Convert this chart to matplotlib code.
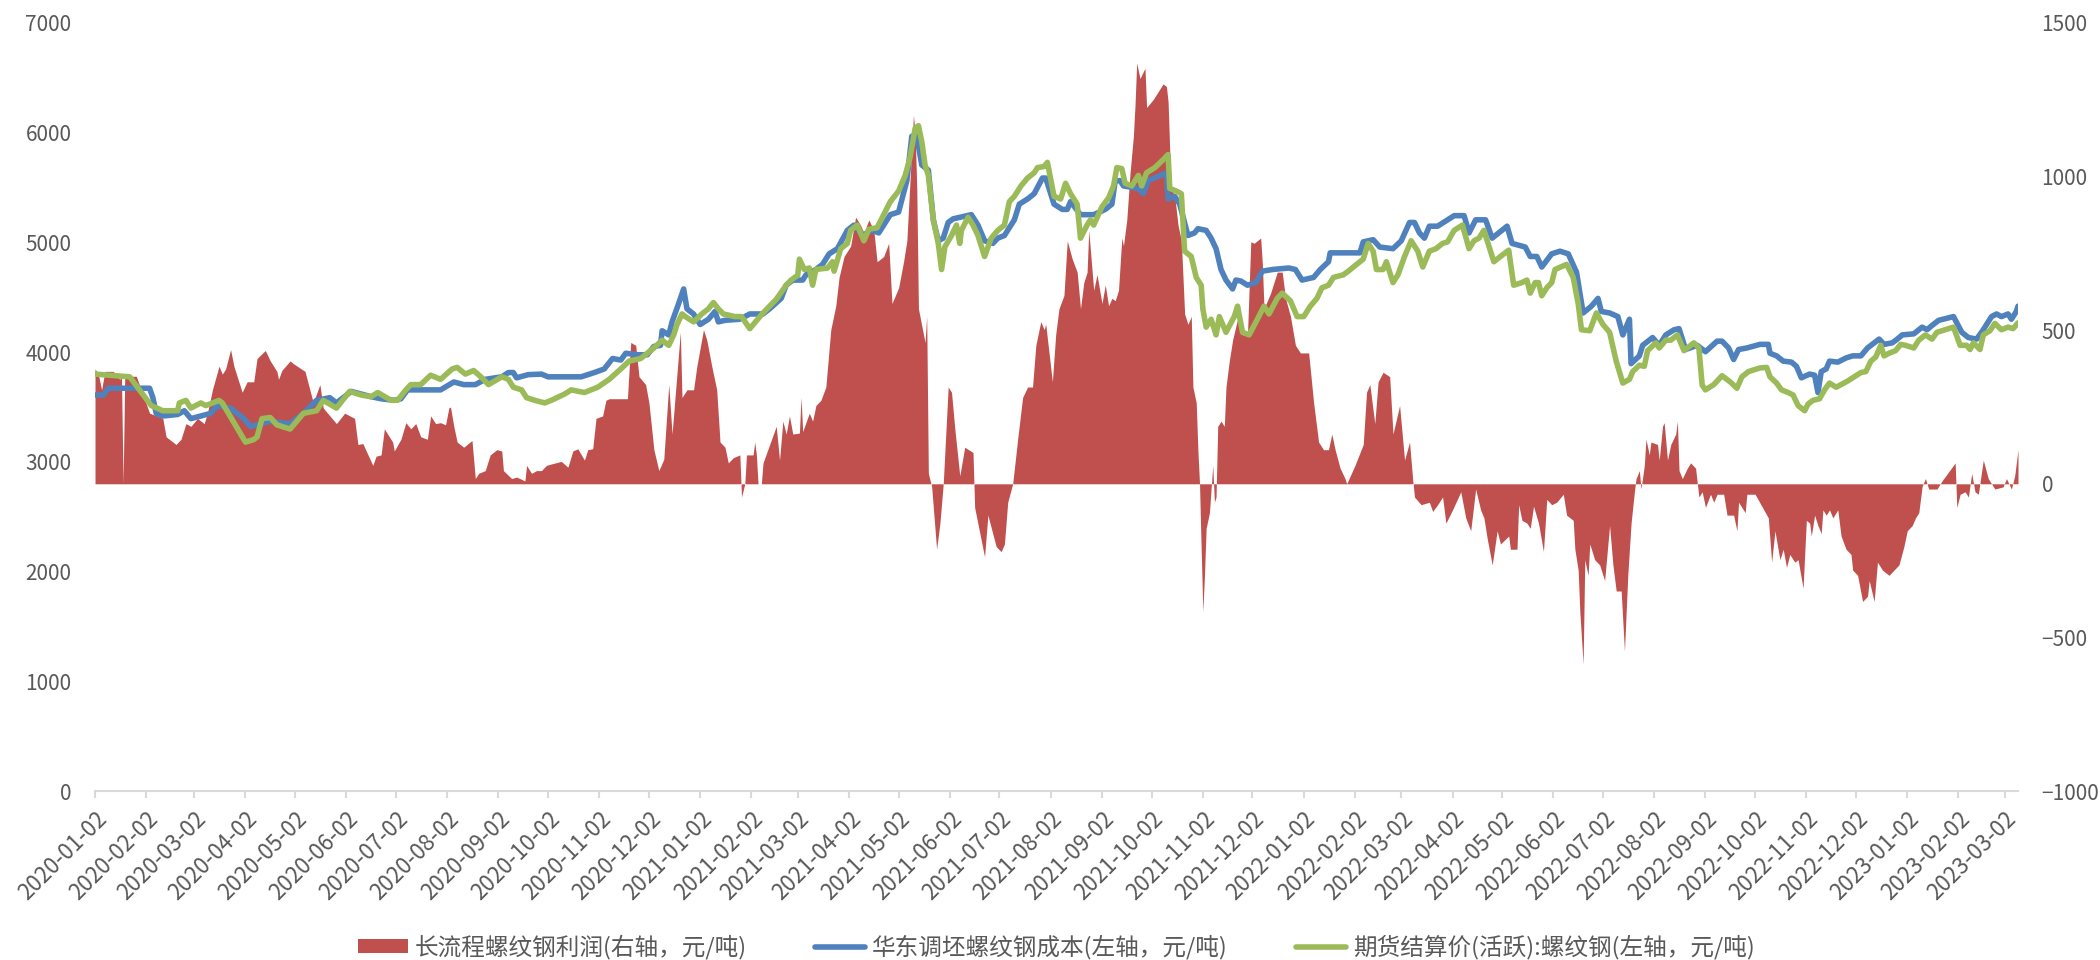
import matplotlib
matplotlib.use('Agg')
import matplotlib.pyplot as plt
import matplotlib.dates as mdates
import pandas as pd

plt.rcParams['font.family'] = ['Noto Sans CJK SC', 'DejaVu Sans']

RED = '#C0504D'
BLUE = '#4F81BD'
GREEN = '#9BBB59'
TEXT = '#595959'
AXIS = '#D9D9D9'

# 期货结算价(活跃):螺纹钢  (left axis)
futures_dates = [
    '2020-01-02', '2020-01-23', '2020-02-05', '2020-02-12', '2020-02-21', '2020-02-22', '2020-02-26',
    '2020-02-29', '2020-03-06', '2020-03-09', '2020-03-17', '2020-03-19', '2020-04-02', '2020-04-07',
    '2020-04-09', '2020-04-12', '2020-04-17', '2020-04-21', '2020-04-29', '2020-05-07', '2020-05-15',
    '2020-05-19', '2020-05-27', '2020-06-04', '2020-06-11', '2020-06-17', '2020-06-21', '2020-06-29',
    '2020-07-03', '2020-07-08', '2020-07-11', '2020-07-17', '2020-07-23', '2020-07-29', '2020-08-05',
    '2020-08-08', '2020-08-13', '2020-08-18', '2020-08-23', '2020-08-27', '2020-09-04', '2020-09-08',
    '2020-09-11', '2020-09-16', '2020-09-19', '2020-09-24', '2020-09-30', '2020-10-04', '2020-10-12',
    '2020-10-16', '2020-10-24', '2020-11-01', '2020-11-08', '2020-11-15', '2020-11-20', '2020-11-27',
    '2020-12-05', '2020-12-10', '2020-12-14', '2020-12-17', '2020-12-19', '2020-12-22', '2020-12-24',
    '2020-12-29', '2021-01-03', '2021-01-07', '2021-01-10', '2021-01-13', '2021-01-16', '2021-01-23',
    '2021-01-27', '2021-02-01', '2021-02-09', '2021-02-17', '2021-02-23', '2021-02-26', '2021-03-02',
    '2021-03-03', '2021-03-06', '2021-03-09', '2021-03-11', '2021-03-13', '2021-03-20', '2021-03-23',
    '2021-03-24', '2021-03-28', '2021-04-01', '2021-04-03', '2021-04-07', '2021-04-11', '2021-04-14',
    '2021-04-19', '2021-04-23', '2021-04-27', '2021-05-02', '2021-05-06', '2021-05-09', '2021-05-12',
    '2021-05-14', '2021-05-16', '2021-05-18', '2021-05-20', '2021-05-23', '2021-05-26', '2021-05-28',
    '2021-05-30', '2021-06-03', '2021-06-06', '2021-06-08', '2021-06-09', '2021-06-13', '2021-06-16',
    '2021-06-19', '2021-06-23', '2021-06-27', '2021-07-01', '2021-07-05', '2021-07-08', '2021-07-11',
    '2021-07-15', '2021-07-19', '2021-07-23', '2021-07-25', '2021-07-29', '2021-07-31', '2021-08-04',
    '2021-08-08', '2021-08-11', '2021-08-14', '2021-08-18', '2021-08-20', '2021-08-24', '2021-08-26',
    '2021-08-28', '2021-09-02', '2021-09-06', '2021-09-09', '2021-09-11', '2021-09-14', '2021-09-16',
    '2021-09-20', '2021-09-24', '2021-09-26', '2021-09-29', '2021-10-04', '2021-10-09', '2021-10-12',
    '2021-10-13', '2021-10-17', '2021-10-20', '2021-10-22', '2021-10-26', '2021-10-29', '2021-11-01',
    '2021-11-02', '2021-11-04', '2021-11-07', '2021-11-10', '2021-11-12', '2021-11-16', '2021-11-21',
    '2021-11-23', '2021-11-26', '2021-11-30', '2021-12-05', '2021-12-09', '2021-12-12', '2021-12-17',
    '2021-12-20', '2021-12-25', '2021-12-29', '2022-01-02', '2022-01-06', '2022-01-10', '2022-01-13',
    '2022-01-17', '2022-01-20', '2022-01-26', '2022-01-29', '2022-02-03', '2022-02-07', '2022-02-10',
    '2022-02-13', '2022-02-15', '2022-02-19', '2022-02-21', '2022-02-25', '2022-02-28', '2022-03-04',
    '2022-03-08', '2022-03-12', '2022-03-15', '2022-03-19', '2022-03-23', '2022-03-27', '2022-03-30',
    '2022-04-03', '2022-04-08', '2022-04-12', '2022-04-15', '2022-04-18', '2022-04-21', '2022-04-27',
    '2022-05-01', '2022-05-06', '2022-05-09', '2022-05-14', '2022-05-17', '2022-05-19', '2022-05-22',
    '2022-05-24', '2022-05-26', '2022-05-29', '2022-06-01', '2022-06-03', '2022-06-08', '2022-06-10',
    '2022-06-14', '2022-06-17', '2022-06-19', '2022-06-24', '2022-06-28', '2022-07-02', '2022-07-06',
    '2022-07-10', '2022-07-14', '2022-07-18', '2022-07-20', '2022-07-24', '2022-07-27', '2022-07-29',
    '2022-08-03', '2022-08-05', '2022-08-09', '2022-08-12', '2022-08-16', '2022-08-20', '2022-08-26',
    '2022-08-29', '2022-08-31', '2022-09-02', '2022-09-07', '2022-09-12', '2022-09-17', '2022-09-21',
    '2022-09-24', '2022-09-28', '2022-10-05', '2022-10-09', '2022-10-11', '2022-10-15', '2022-10-18',
    '2022-10-22', '2022-10-25', '2022-10-28', '2022-11-01', '2022-11-03', '2022-11-06', '2022-11-10',
    '2022-11-13', '2022-11-16', '2022-11-20', '2022-11-23', '2022-11-27', '2022-12-01', '2022-12-05',
    '2022-12-08', '2022-12-11', '2022-12-14', '2022-12-17', '2022-12-19', '2022-12-22', '2022-12-26',
    '2022-12-29', '2023-01-01', '2023-01-06', '2023-01-09', '2023-01-13', '2023-01-17', '2023-01-20',
    '2023-01-30', '2023-02-03', '2023-02-07', '2023-02-09', '2023-02-11', '2023-02-15', '2023-02-17',
    '2023-02-21', '2023-02-24', '2023-02-28', '2023-03-04', '2023-03-07', '2023-03-10',
]
futures = [
    3800, 3775, 3513, 3466, 3466, 3537, 3560, 3490, 3537, 3513, 3560, 3537, 3180, 3203,
    3227, 3394, 3404, 3337, 3299, 3442, 3466, 3561, 3490, 3642, 3609, 3594, 3632, 3561,
    3561, 3656, 3704, 3704, 3790, 3752, 3847, 3861, 3800, 3833, 3766, 3704, 3775, 3752,
    3680, 3656, 3585, 3561, 3537, 3561, 3618, 3656, 3632, 3680, 3752, 3847, 3918, 3942,
    4038, 4109, 4062, 4157, 4252, 4348, 4324, 4276, 4348, 4395, 4452, 4395, 4348, 4324,
    4324, 4214, 4357, 4481, 4610, 4657, 4700, 4848, 4753, 4767, 4610, 4753, 4767, 4824,
    4738, 4943, 4991, 5110, 5158, 5015, 5120, 5134, 5253, 5372, 5468, 5611, 5778, 6040,
    6064, 5920, 5706, 5611, 5206, 4991, 4753, 4960, 5063, 5158, 4991, 5110, 5229, 5158,
    5063, 4872, 5039, 5110, 5158, 5372, 5420, 5515, 5587, 5635, 5682, 5692, 5730, 5420,
    5396, 5539, 5444, 5349, 5039, 5158, 5206, 5158, 5325, 5406, 5515, 5682, 5673, 5539,
    5515, 5611, 5515, 5635, 5682, 5754, 5801, 5492, 5468, 5444, 4920, 4872, 4681, 4610,
    4395, 4228, 4300, 4157, 4324, 4181, 4324, 4419, 4181, 4157, 4300, 4419, 4348, 4490,
    4538, 4467, 4324, 4324, 4419, 4490, 4586, 4610, 4681, 4705, 4738, 4800, 4848, 4991,
    4920, 4753, 4753, 4824, 4634, 4705, 4872, 5015, 4920, 4776, 4920, 4943, 4991, 5005,
    5110, 5158, 4943, 5015, 5039, 5110, 4824, 4872, 4929, 4610, 4634, 4657, 4538, 4634,
    4634, 4514, 4586, 4634, 4753, 4786, 4800, 4681, 4443, 4204, 4195, 4357, 4252, 4181,
    3918, 3718, 3752, 3823, 3881, 3871, 4014, 4085, 4038, 4109, 4109, 4157, 4014, 4085,
    4038, 3699, 3656, 3704, 3785, 3728, 3671, 3775, 3823, 3856, 3861, 3775, 3718, 3656,
    3632, 3609, 3513, 3466, 3527, 3561, 3575, 3656, 3718, 3680, 3704, 3737, 3775, 3814,
    3823, 3918, 3956, 4062, 3966, 3990, 4014, 4071, 4062, 4038, 4109, 4157, 4119, 4181,
    4228, 4062, 4062, 4024, 4085, 4024, 4157, 4195, 4262, 4204, 4228, 4214, 4267,
]

# 华东调坯螺纹钢成本  (left axis)
cost_dates = [
    '2020-01-02', '2020-01-07', '2020-01-10', '2020-02-04', '2020-02-06', '2020-02-08', '2020-02-12',
    '2020-02-21', '2020-02-25', '2020-02-29', '2020-03-06', '2020-03-12', '2020-03-16', '2020-03-24',
    '2020-04-01', '2020-04-05', '2020-04-09', '2020-04-17', '2020-04-29', '2020-05-07', '2020-05-15',
    '2020-05-23', '2020-05-27', '2020-06-05', '2020-06-17', '2020-06-23', '2020-07-01', '2020-07-05',
    '2020-07-09', '2020-07-29', '2020-08-06', '2020-08-12', '2020-08-19', '2020-08-25', '2020-09-04',
    '2020-09-08', '2020-09-11', '2020-09-13', '2020-09-20', '2020-09-28', '2020-10-02', '2020-10-22',
    '2020-10-30', '2020-11-05', '2020-11-10', '2020-11-15', '2020-11-18', '2020-11-25', '2020-12-01',
    '2020-12-05', '2020-12-09', '2020-12-10', '2020-12-14', '2020-12-16', '2020-12-20', '2020-12-23',
    '2020-12-25', '2020-12-29', '2021-01-02', '2021-01-07', '2021-01-11', '2021-01-13', '2021-01-17',
    '2021-01-26', '2021-02-01', '2021-02-09', '2021-02-13', '2021-02-20', '2021-02-23', '2021-02-27',
    '2021-03-05', '2021-03-07', '2021-03-13', '2021-03-17', '2021-03-21', '2021-03-26', '2021-04-01',
    '2021-04-05', '2021-04-10', '2021-04-16', '2021-04-20', '2021-04-27', '2021-05-02', '2021-05-07',
    '2021-05-10', '2021-05-13', '2021-05-16', '2021-05-20', '2021-05-23', '2021-05-26', '2021-05-29',
    '2021-06-01', '2021-06-04', '2021-06-15', '2021-06-19', '2021-06-23', '2021-06-28', '2021-07-01',
    '2021-07-05', '2021-07-11', '2021-07-14', '2021-07-19', '2021-07-23', '2021-07-28', '2021-07-30',
    '2021-08-04', '2021-08-09', '2021-08-12', '2021-08-14', '2021-08-20', '2021-08-28', '2021-09-04',
    '2021-09-08', '2021-09-10', '2021-09-13', '2021-09-15', '2021-09-24', '2021-09-27', '2021-09-30',
    '2021-10-11', '2021-10-12', '2021-10-16', '2021-10-19', '2021-10-24', '2021-10-28', '2021-10-30',
    '2021-11-04', '2021-11-07', '2021-11-10', '2021-11-13', '2021-11-16', '2021-11-20', '2021-11-22',
    '2021-11-25', '2021-11-29', '2021-12-04', '2021-12-08', '2021-12-14', '2021-12-24', '2021-12-28',
    '2022-01-01', '2022-01-08', '2022-01-12', '2022-01-17', '2022-01-18', '2022-02-05', '2022-02-07',
    '2022-02-13', '2022-02-17', '2022-02-25', '2022-03-02', '2022-03-07', '2022-03-10', '2022-03-13',
    '2022-03-16', '2022-03-19', '2022-03-24', '2022-03-30', '2022-04-03', '2022-04-09', '2022-04-12',
    '2022-04-16', '2022-04-22', '2022-04-26', '2022-05-05', '2022-05-08', '2022-05-16', '2022-05-19',
    '2022-05-23', '2022-05-26', '2022-06-01', '2022-06-06', '2022-06-11', '2022-06-16', '2022-06-20',
    '2022-06-25', '2022-06-29', '2022-07-01', '2022-07-06', '2022-07-11', '2022-07-14', '2022-07-18',
    '2022-07-19', '2022-07-24', '2022-07-26', '2022-08-01', '2022-08-05', '2022-08-09', '2022-08-14',
    '2022-08-17', '2022-08-21', '2022-08-28', '2022-09-02', '2022-09-09', '2022-09-12', '2022-09-16',
    '2022-09-19', '2022-09-22', '2022-09-27', '2022-10-05', '2022-10-10', '2022-10-11', '2022-10-15',
    '2022-10-19', '2022-10-24', '2022-10-27', '2022-10-30', '2022-11-04', '2022-11-07', '2022-11-09',
    '2022-11-11', '2022-11-14', '2022-11-16', '2022-11-21', '2022-11-26', '2022-11-30', '2022-12-05',
    '2022-12-09', '2022-12-13', '2022-12-16', '2022-12-19', '2022-12-24', '2022-12-27', '2022-12-30',
    '2023-01-06', '2023-01-11', '2023-01-14', '2023-01-17', '2023-01-21', '2023-01-30', '2023-02-04',
    '2023-02-08', '2023-02-13', '2023-02-17', '2023-02-22', '2023-02-25', '2023-02-28', '2023-03-04',
    '2023-03-06', '2023-03-09', '2023-03-10',
]
cost = [
    3609, 3609, 3671, 3671, 3585, 3442, 3418, 3432, 3466, 3394, 3418, 3442, 3513, 3490,
    3394, 3323, 3337, 3370, 3347, 3442, 3561, 3585, 3537, 3642, 3594, 3575, 3561, 3575,
    3656, 3656, 3728, 3704, 3704, 3752, 3775, 3814, 3814, 3766, 3795, 3800, 3775, 3775,
    3814, 3847, 3942, 3928, 3990, 3976, 3976, 4052, 4062, 4195, 4157, 4276, 4443, 4576,
    4395, 4348, 4252, 4300, 4371, 4276, 4290, 4300, 4348, 4348, 4395, 4490, 4610, 4657,
    4657, 4705, 4753, 4800, 4896, 4943, 5110, 5158, 5063, 5110, 5087, 5253, 5277, 5563,
    5968, 5968, 5706, 5659, 5206, 5015, 5039, 5182, 5215, 5253, 5158, 5015, 4991, 5039,
    5063, 5206, 5349, 5396, 5444, 5587, 5587, 5349, 5301, 5301, 5372, 5253, 5253, 5301,
    5349, 5563, 5563, 5515, 5492, 5444, 5563, 5635, 5396, 5420, 5349, 5063, 5087, 5125,
    5110, 5039, 4943, 4753, 4657, 4576, 4657, 4648, 4610, 4634, 4738, 4753, 4767, 4753,
    4657, 4681, 4753, 4824, 4905, 4905, 5005, 5025, 4958, 4943, 5015, 5182, 5182, 5087,
    5039, 5148, 5148, 5206, 5244, 5244, 5087, 5206, 5206, 5039, 5148, 4991, 4958, 4872,
    4872, 4776, 4896, 4920, 4896, 4729, 4357, 4419, 4490, 4371, 4357, 4324, 4157, 4300,
    3895, 3966, 4062, 4133, 4062, 4157, 4204, 4214, 4024, 4062, 4004, 4100, 4100, 4038,
    3933, 4024, 4038, 4071, 4071, 3990, 3966, 3918, 3909, 3871, 3766, 3800, 3790, 3632,
    3823, 3847, 3918, 3909, 3947, 3966, 3966, 4038, 4085, 4119, 4071, 4085, 4119, 4157,
    4167, 4228, 4205, 4243, 4290, 4324, 4181, 4133, 4119, 4204, 4324, 4348, 4324, 4348,
    4300, 4371, 4419,
]

# 长流程螺纹钢利润  (right axis)
profit_dates = [
    '2020-01-02', '2020-01-04', '2020-01-06', '2020-01-08', '2020-01-13', '2020-01-17', '2020-01-18',
    '2020-01-19', '2020-01-20', '2020-01-27', '2020-02-04', '2020-02-12', '2020-02-14', '2020-02-20',
    '2020-02-23', '2020-02-26', '2020-02-29', '2020-03-04', '2020-03-08', '2020-03-10', '2020-03-13',
    '2020-03-17', '2020-03-19', '2020-03-21', '2020-03-24', '2020-03-26', '2020-03-31', '2020-04-03',
    '2020-04-07', '2020-04-09', '2020-04-14', '2020-04-17', '2020-04-21', '2020-04-22', '2020-04-24',
    '2020-04-29', '2020-05-01', '2020-05-08', '2020-05-13', '2020-05-17', '2020-05-19', '2020-05-27',
    '2020-06-01', '2020-06-07', '2020-06-09', '2020-06-12', '2020-06-18', '2020-06-20', '2020-06-23',
    '2020-06-25', '2020-06-30', '2020-07-01', '2020-07-05', '2020-07-08', '2020-07-11', '2020-07-14',
    '2020-07-17', '2020-07-21', '2020-07-23', '2020-07-26', '2020-07-29', '2020-08-01', '2020-08-03',
    '2020-08-04', '2020-08-06', '2020-08-08', '2020-08-12', '2020-08-17', '2020-08-19', '2020-08-21',
    '2020-08-25', '2020-08-28', '2020-09-01', '2020-09-04', '2020-09-05', '2020-09-10', '2020-09-13',
    '2020-09-15', '2020-09-18', '2020-09-19', '2020-09-22', '2020-09-25', '2020-09-28', '2020-10-01',
    '2020-10-05', '2020-10-10', '2020-10-14', '2020-10-17', '2020-10-20', '2020-10-24', '2020-10-26',
    '2020-10-29', '2020-10-31', '2020-11-04', '2020-11-06', '2020-11-08', '2020-11-19', '2020-11-21',
    '2020-11-24', '2020-11-26', '2020-11-30', '2020-12-02', '2020-12-05', '2020-12-08', '2020-12-11',
    '2020-12-14', '2020-12-16', '2020-12-21', '2020-12-22', '2020-12-25', '2020-12-29', '2020-12-31',
    '2021-01-04', '2021-01-06', '2021-01-09', '2021-01-12', '2021-01-14', '2021-01-17', '2021-01-19',
    '2021-01-22', '2021-01-26', '2021-01-27', '2021-01-29', '2021-01-30', '2021-02-03', '2021-02-04',
    '2021-02-05', '2021-02-06', '2021-02-08', '2021-02-09', '2021-02-17', '2021-02-19', '2021-02-21',
    '2021-02-23', '2021-02-25', '2021-02-27', '2021-03-03', '2021-03-04', '2021-03-05', '2021-03-09',
    '2021-03-11', '2021-03-13', '2021-03-16', '2021-03-19', '2021-03-22', '2021-03-25', '2021-03-27',
    '2021-03-30', '2021-04-03', '2021-04-06', '2021-04-09', '2021-04-11', '2021-04-14', '2021-04-17',
    '2021-04-19', '2021-04-23', '2021-04-26', '2021-04-28', '2021-05-02', '2021-05-05', '2021-05-07',
    '2021-05-09', '2021-05-11', '2021-05-12', '2021-05-13', '2021-05-14', '2021-05-18', '2021-05-19',
    '2021-05-20', '2021-05-22', '2021-05-25', '2021-05-27', '2021-05-29', '2021-06-01', '2021-06-03',
    '2021-06-05', '2021-06-08', '2021-06-11', '2021-06-16', '2021-06-17', '2021-06-23', '2021-06-25',
    '2021-06-30', '2021-07-03', '2021-07-05', '2021-07-07', '2021-07-10', '2021-07-13', '2021-07-16',
    '2021-07-19', '2021-07-22', '2021-07-24', '2021-07-27', '2021-07-29', '2021-07-30', '2021-08-03',
    '2021-08-05', '2021-08-07', '2021-08-10', '2021-08-12', '2021-08-15', '2021-08-18', '2021-08-20',
    '2021-08-22', '2021-08-24', '2021-08-25', '2021-08-28', '2021-08-30', '2021-09-02', '2021-09-04',
    '2021-09-06', '2021-09-08', '2021-09-10', '2021-09-12', '2021-09-14', '2021-09-15', '2021-09-17',
    '2021-09-19', '2021-09-21', '2021-09-22', '2021-09-23', '2021-09-25', '2021-09-28', '2021-09-29',
    '2021-10-03', '2021-10-09', '2021-10-11', '2021-10-12', '2021-10-13', '2021-10-14', '2021-10-16',
    '2021-10-18', '2021-10-20', '2021-10-22', '2021-10-24', '2021-10-26', '2021-10-27', '2021-10-29',
    '2021-10-30', '2021-10-31', '2021-11-01', '2021-11-02', '2021-11-03', '2021-11-04', '2021-11-06',
    '2021-11-08', '2021-11-09', '2021-11-10', '2021-11-11', '2021-11-13', '2021-11-15', '2021-11-16',
    '2021-11-18', '2021-11-20', '2021-11-23', '2021-11-26', '2021-11-29', '2021-12-01', '2021-12-03',
    '2021-12-07', '2021-12-08', '2021-12-09', '2021-12-13', '2021-12-17', '2021-12-20', '2021-12-22',
    '2021-12-25', '2021-12-28', '2021-12-31', '2022-01-05', '2022-01-08', '2022-01-11', '2022-01-14',
    '2022-01-17', '2022-01-19', '2022-01-21', '2022-01-24', '2022-01-27', '2022-01-28', '2022-02-02',
    '2022-02-07', '2022-02-09', '2022-02-11', '2022-02-14', '2022-02-16', '2022-02-19', '2022-02-23',
    '2022-02-25', '2022-03-01', '2022-03-04', '2022-03-07', '2022-03-09', '2022-03-10', '2022-03-14',
    '2022-03-19', '2022-03-21', '2022-03-24', '2022-03-27', '2022-03-29', '2022-04-02', '2022-04-07',
    '2022-04-10', '2022-04-13', '2022-04-16', '2022-04-19', '2022-04-21', '2022-04-23', '2022-04-26',
    '2022-04-29', '2022-05-01', '2022-05-06', '2022-05-07', '2022-05-11', '2022-05-12', '2022-05-14',
    '2022-05-17', '2022-05-19', '2022-05-21', '2022-05-24', '2022-05-27', '2022-05-29', '2022-06-01',
    '2022-06-04', '2022-06-08', '2022-06-10', '2022-06-14', '2022-06-15', '2022-06-17', '2022-06-18',
    '2022-06-20', '2022-06-21', '2022-06-23', '2022-06-24', '2022-06-27', '2022-06-30', '2022-07-03',
    '2022-07-06', '2022-07-08', '2022-07-10', '2022-07-13', '2022-07-15', '2022-07-17', '2022-07-19',
    '2022-07-21', '2022-07-22', '2022-07-24', '2022-07-25', '2022-07-27', '2022-07-28', '2022-07-30',
    '2022-07-31', '2022-08-04', '2022-08-05', '2022-08-07', '2022-08-08', '2022-08-10', '2022-08-12',
    '2022-08-15', '2022-08-16', '2022-08-17', '2022-08-19', '2022-08-22', '2022-08-24', '2022-08-27',
    '2022-08-29', '2022-08-31', '2022-09-02', '2022-09-05', '2022-09-07', '2022-09-09', '2022-09-13',
    '2022-09-15', '2022-09-19', '2022-09-21', '2022-09-22', '2022-09-26', '2022-09-27', '2022-10-02',
    '2022-10-10', '2022-10-12', '2022-10-14', '2022-10-17', '2022-10-19', '2022-10-21', '2022-10-23',
    '2022-10-26', '2022-10-28', '2022-10-31', '2022-11-02', '2022-11-04', '2022-11-05', '2022-11-07',
    '2022-11-09', '2022-11-11', '2022-11-12', '2022-11-14', '2022-11-16', '2022-11-18', '2022-11-21',
    '2022-11-23', '2022-11-26', '2022-11-29', '2022-11-30', '2022-12-03', '2022-12-06', '2022-12-09',
    '2022-12-10', '2022-12-13', '2022-12-15', '2022-12-18', '2022-12-22', '2022-12-28', '2022-12-31',
    '2023-01-02', '2023-01-05', '2023-01-07', '2023-01-09', '2023-01-11', '2023-01-13', '2023-01-15',
    '2023-01-20', '2023-01-23', '2023-01-31', '2023-02-01', '2023-02-03', '2023-02-06', '2023-02-08',
    '2023-02-10', '2023-02-12', '2023-02-14', '2023-02-17', '2023-02-20', '2023-02-24', '2023-03-01',
    '2023-03-03', '2023-03-06', '2023-03-08', '2023-03-10',
]
profit = [
    374, 357, 306, 366, 366, 340, 350, 0, 350, 350, 230, 213, 153, 128,
    145, 196, 187, 213, 196, 230, 306, 383, 357, 374, 437, 383, 298, 332,
    332, 408, 434, 400, 366, 340, 369, 400, 391, 366, 264, 323, 247, 196,
    230, 213, 128, 131, 60, 90, 94, 179, 136, 107, 145, 199, 179, 196,
    153, 145, 221, 196, 199, 192, 247, 250, 187, 136, 119, 141, 17, 34,
    43, 94, 111, 107, 43, 17, 22, 17, 9, 60, 34, 43, 43, 60,
    66, 73, 54, 107, 114, 77, 111, 114, 213, 221, 272, 277, 277, 460,
    451, 349, 323, 264, 111, 43, 80, 323, 162, 494, 281, 306, 306, 383,
    502, 468, 383, 306, 136, 119, 68, 85, 94, -43, 0, 94, 94, 136,
    94, 0, 0, 68, 187, 77, 204, 162, 221, 162, 165, 281, 170, 230,
    204, 255, 272, 315, 502, 579, 672, 740, 774, 868, 842, 817, 859, 825,
    723, 740, 783, 587, 638, 723, 791, 996, 1200, 1140, 962, 570, 460, 545,
    34, -9, -213, -128, 0, 315, 298, 179, 26, 119, 102, -77, -238, -102,
    -204, -221, -196, -60, 0, 145, 281, 315, 315, 451, 528, 502, 519, 332,
    485, 570, 613, 791, 732, 689, 570, 655, 689, 825, 630, 681, 587, 647,
    579, 604, 596, 630, 800, 775, 859, 1013, 1132, 1234, 1370, 1319, 1353, 1225,
    1251, 1302, 1293, 1242, 1081, 962, 936, 842, 791, 553, 519, 545, 315, 264,
    111, 0, -213, -417, -298, -145, -94, 60, -60, -43, 187, 204, 187, 315,
    400, 468, 536, 485, 485, 788, 783, 800, 715, 570, 621, 689, 689, 604,
    545, 451, 426, 426, 264, 136, 111, 111, 162, 111, 51, 17, 0, 60,
    128, 298, 323, 196, 332, 363, 349, 162, 255, 77, 136, 9, -43, -68,
    -60, -90, -68, -43, -128, -85, -26, -111, -153, -17, -85, -111, -179, -264,
    -153, -196, -170, -213, -213, -68, -119, -128, -145, -73, -128, -221, -51, -68,
    -60, -34, -102, -119, -213, -281, -417, -587, -247, -298, -196, -247, -264, -315,
    -136, -264, -349, -349, -545, -298, -128, -26, 17, 43, -17, 60, 145, 94,
    136, 128, 77, 187, 199, 77, 128, 162, 204, 43, 17, 51, 68, 51,
    -43, -26, -77, -34, -60, -34, -34, -102, -102, -153, -60, -94, -34, -34,
    -111, -255, -153, -247, -213, -272, -230, -255, -247, -340, -119, -128, -170, -102,
    -136, -162, -85, -102, -85, -111, -85, -170, -213, -230, -281, -298, -383, -366,
    -315, -383, -255, -281, -298, -264, -204, -153, -136, -111, -94, -9, 17, -17,
    -17, 9, 68, -77, -34, -26, -43, 34, -26, -34, 77, 17, -17, -10,
    17, -17, 26, 111,
]

labels = ['长流程螺纹钢利润(右轴，元/吨)', '华东调坯螺纹钢成本(左轴，元/吨)',
          '期货结算价(活跃):螺纹钢(左轴，元/吨)']
left_ticks = [0, 1000, 2000, 3000, 4000, 5000, 6000, 7000]
right_ticks = [-1000, -500, 0, 500, 1000, 1500]

fig = plt.figure(figsize=(21, 9.6), dpi=100)
ax_r = fig.add_axes([95 / 2100, 169 / 960, 1923 / 2100, 768 / 960])
ax_l = ax_r.twinx()

area = ax_r.fill_between(pd.to_datetime(profit_dates), profit, 0, color=RED,
                         linewidth=0, label=labels[0])
l1, = ax_l.plot(pd.to_datetime(cost_dates), cost, color=BLUE, lw=4,
                solid_joinstyle='round', solid_capstyle='round', label=labels[1])
l2, = ax_l.plot(pd.to_datetime(futures_dates), futures, color=GREEN, lw=4,
                solid_joinstyle='round', solid_capstyle='round', label=labels[2])

ax_r.set_xlim(pd.Timestamp('2020-01-02'), pd.Timestamp('2023-03-10'))
ax_r.set_ylim(-1000, 1500)
ax_r.set_yticks(right_ticks)
ax_l.set_ylim(0, 7000)
ax_l.set_yticks(left_ticks)
ax_r.yaxis.tick_right()
ax_l.yaxis.tick_left()

ax_r.xaxis.set_major_locator(mdates.MonthLocator(bymonthday=2))
ax_r.xaxis.set_major_formatter(mdates.DateFormatter('%Y-%m-%d'))

for ax in (ax_r, ax_l):
    for s in ('top', 'left', 'right'):
        ax.spines[s].set_visible(False)
    ax.tick_params(axis='y', length=0, labelsize=15, labelcolor=TEXT, pad=17)
ax_l.spines['bottom'].set_visible(False)
ax_r.spines['bottom'].set_color(AXIS)
ax_r.spines['bottom'].set_linewidth(1.5)
ax_r.tick_params(axis='x', length=5, width=1.5, color=AXIS, labelsize=16,
                 labelcolor=TEXT, pad=7)
plt.setp(ax_r.get_xticklabels(), rotation=45, ha='right', va='top',
         rotation_mode='anchor')

fig.legend([area, l1, l2], labels, loc='center', bbox_to_anchor=(0.503, 0.0135),
           ncol=3, frameon=False, fontsize=17, labelcolor=TEXT,
           handlelength=2.1, handleheight=0.55, handletextpad=0.3, columnspacing=2.9)

fig.savefig('out.png', dpi=100)
